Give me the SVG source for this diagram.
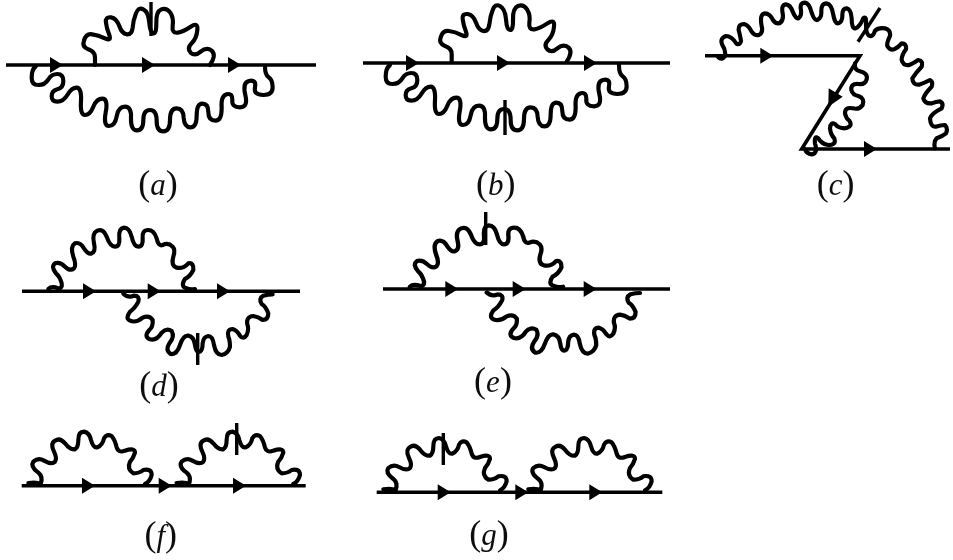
<svg xmlns="http://www.w3.org/2000/svg" xmlns:xlink="http://www.w3.org/1999/xlink" width="953" height="560" viewBox="0 0 953 560">
<style>
.w{fill:none;stroke:#000;stroke-width:12.5;stroke-linecap:round;stroke-linejoin:round}
.l{fill:none;stroke:#000;stroke-width:3.6}
.t{fill:none;stroke:#000;stroke-width:3.4}
.lab{font-family:"Liberation Serif",serif;font-size:36px;text-anchor:middle;fill:#111}
.lab tspan{font-style:italic;font-size:31px}
</style>
<defs>
<filter id="soft" x="-2%" y="-2%" width="104%" height="104%"><feGaussianBlur stdDeviation="0.4"/></filter>
<polygon id="ah" points="0,0 -13,-8 -13,8" fill="#000"/>
<path id="aTop" class="w" d="M285 195 L285 172 Q285 155 265 148 Q245 140 252 122 Q258 100 277 103 Q295 105 315 115 Q335 125 328 105 Q320 85 318 68 Q315 50 333 52 Q350 55 358 78 Q365 100 380 103 Q395 105 398 83 Q400 60 408 40 Q415 20 430 28 Q445 35 448 68 Q450 100 460 100 Q470 100 469 68 Q468 35 484 28 Q500 22 511 38 Q522 55 518 78 Q515 100 533 98 Q550 95 572 80 Q595 65 592 90 Q590 115 575 130 Q560 145 572 158 Q585 170 602 155 Q620 140 635 152 Q650 165 630 195"/>
<path id="aBot" class="w" d="M108 198 Q95 208 95 233 Q95 255 115 255 Q135 255 145 238 Q155 222 172 222 Q190 222 190 243 Q190 264 172 268 Q155 272 155 289 Q155 305 172 305 Q190 305 202 285 Q215 263 230 263 Q245 263 243 303 Q240 345 255 345 Q270 345 280 320 Q290 296 307 296 Q325 296 317 338 Q310 378 327 378 Q345 378 350 349 Q355 320 375 320 Q395 320 393 355 Q392 391 411 391 Q430 391 430 360 Q430 330 450 330 Q470 330 470 362 Q470 394 490 394 Q510 394 510 360 Q510 325 530 325 Q550 325 551 353 Q553 382 571 382 Q590 382 590 347 Q590 311 607 311 Q625 311 625 336 Q625 362 647 362 Q665 362 665 325 Q662 288 680 283 Q698 278 697 300 Q695 322 720 322 Q745 322 736 285 Q727 248 747 243 Q770 238 765 262 Q760 285 790 285 Q818 285 818 262 Q818 240 806 232 Q795 225 795 198"/>
<path id="dTop" class="w" d="M115 252 Q125 242 145 250 Q158 250 155 235 Q150 215 138 205 Q122 185 135 175 Q150 170 165 185 Q180 200 192 190 Q200 180 190 155 Q180 125 195 115 Q210 110 222 130 Q235 150 245 145 Q258 140 252 115 Q245 85 262 77 Q280 70 290 95 Q300 125 315 125 Q330 125 328 100 Q325 70 342 68 Q358 68 365 95 Q372 125 385 125 Q400 125 398 100 Q395 75 415 75 Q432 75 440 100 Q445 125 458 120 Q475 112 488 125 Q497 135 490 155 Q482 182 500 188 Q520 192 535 175 Q552 172 550 195 Q540 215 525 222 Q510 245 530 250 Q540 255 555 252"/>
<path id="dBot" class="w" d="M340 266 Q355 280 372 272 Q390 272 385 290 Q375 310 360 320 Q345 340 360 347 Q378 355 398 338 Q418 330 428 345 Q430 365 418 375 Q400 395 420 403 Q440 408 455 383 Q470 368 485 378 Q495 395 478 415 Q465 435 482 447 Q500 450 510 420 Q520 390 535 392 Q552 395 555 420 Q558 445 570 440 Q578 435 578 415 Q580 395 595 393 Q608 393 612 420 Q618 450 635 450 Q655 445 660 425 Q660 405 655 395 Q650 372 668 372 Q680 375 690 392 Q700 405 710 390 Q718 372 712 358 Q708 335 730 333 Q745 335 758 345 Q775 345 775 325 Q768 305 755 297 Q745 280 760 272 Q775 268 788 268"/>
<path id="fArc" class="w" d="M55 219 Q80 215 92 222 Q100 200 85 188 Q60 170 70 155 Q85 142 102 152 Q125 165 135 155 Q142 145 132 125 Q120 100 135 92 Q150 82 165 100 Q180 120 195 118 Q205 112 205 90 Q205 65 222 65 Q238 68 243 90 Q250 115 262 112 Q278 105 282 85 Q290 70 305 78 Q315 90 320 112 Q325 130 345 122 Q375 112 375 128 Q370 145 360 155 Q350 178 370 190 Q388 190 400 180 Q425 175 425 195 Q420 215 405 222"/>
</defs>
<rect width="953" height="560" fill="#fff"/>
<g filter="url(#soft)">
<g id="diagram-a">
<g id="connectors-a">
<path class="l" d="M6 65H316"/>
<use href="#aTop" transform="scale(.3333)"/>
<use href="#aBot" transform="scale(.3333)"/>
<path class="t" d="M151 2V36"/>
</g>
<use href="#ah" x="63" y="65"/><use href="#ah" x="155" y="65"/><use href="#ah" x="241" y="65"/>
<text class="lab" x="158" y="195">(<tspan>a</tspan>)</text>
</g>
<g id="diagram-b">
<g id="connectors-b">
<path class="l" d="M363 63H670"/>
<use href="#aTop" transform="translate(356.7,-3.3) scale(.3333)"/>
<use href="#aBot" transform="translate(354,-1) scale(.3333)"/>
<path class="t" d="M505 100V135"/>
</g>
<use href="#ah" x="419" y="63"/><use href="#ah" x="510" y="63"/><use href="#ah" x="597" y="63"/>
<text class="lab" x="495.7" y="195">(<tspan>b</tspan>)</text>
</g>
<g id="diagram-c">
<g id="connectors-c">
<path class="l" d="M705 55.7H860L801.7 149H950"/>
<g transform="translate(690,0) scale(.3333)">
<path class="w" d="M85 172 Q95 182 105 168 Q108 150 97 135 Q88 115 108 108 Q125 108 140 132 Q152 135 153 122 Q150 105 146 90 Q145 72 162 72 Q175 75 185 95 Q195 108 207 105 Q220 98 215 78 Q208 42 225 40 Q240 40 250 62 Q258 72 268 70 Q282 62 278 40 Q273 15 287 13 Q302 15 308 35 Q318 58 325 55 Q335 50 333 30 Q328 8 345 8 Q358 10 365 38 Q373 62 382 60 Q395 55 394 35 Q393 10 410 10 Q425 12 430 45 Q435 72 445 70 Q458 65 457 45 Q457 25 470 25 Q483 28 485 55 Q485 88 497 85 Q510 80 520 55 Q530 45 528 75 Q528 105 540 108 Q550 110 555 92 Q565 82 585 85 Q603 90 600 108 Q590 128 592 138 Q600 152 612 148 Q625 142 635 130 Q650 130 648 148 Q635 165 635 180 Q640 198 658 195 Q675 188 685 180 Q700 182 695 200 Q680 215 667 235 Q668 255 687 254 Q705 248 720 240 Q730 245 725 260 Q705 280 700 295 Q705 312 725 310 Q738 305 750 304 Q762 310 755 325 Q725 340 720 355 Q722 382 737 380 Q752 375 765 375 Q775 385 768 400 Q755 410 740 415 Q730 425 735 445"/>
<path class="w" d="M495 190 Q492 210 510 214 Q535 220 530 238 Q525 255 505 252 Q482 250 484 270 Q488 285 505 288 Q525 295 518 315 Q508 330 488 325 Q465 320 465 340 Q468 355 478 362 Q490 380 465 385 Q445 385 435 372 Q422 365 420 385 Q422 405 433 415 Q440 435 415 435 Q395 432 385 415 Q372 405 375 430 Q385 460 365 463 Q350 462 345 448"/>
</g>
<path class="t" d="M858 41.7L880 8"/>
</g>
<use href="#ah" x="773.3" y="55.7"/>
<polygon points="828.3,106.7 828.7,88.3 842.7,96.7" fill="#000"/>
<use href="#ah" x="877" y="149"/>
<text class="lab" x="835.7" y="195">(<tspan>c</tspan>)</text>
</g>
<g id="diagram-d">
<g id="connectors-d">
<path class="l" d="M22 291.3H300"/>
<use href="#dTop" transform="translate(10,205) scale(.3333)"/>
<use href="#dBot" transform="translate(10,205) scale(.3333)"/>
<path class="t" d="M197.7 333V365"/>
</g>
<use href="#ah" x="96" y="291.3"/><use href="#ah" x="160.7" y="291.3"/><use href="#ah" x="230" y="291.3"/>
<text class="lab" x="159" y="396">(<tspan>d</tspan>)</text>
</g>
<g id="diagram-e">
<g id="connectors-e">
<path class="l" d="M383 289H670"/>
<use href="#dTop" transform="translate(369.9,202.7) scale(.348,.3333)"/>
<use href="#dBot" transform="translate(370.3,203.7) scale(.3423,.3333)"/>
<path class="t" d="M485.7 212V245"/>
</g>
<use href="#ah" x="458.3" y="289"/><use href="#ah" x="525.7" y="289"/><use href="#ah" x="596.7" y="289"/>
<text class="lab" x="493" y="392">(<tspan>e</tspan>)</text>
</g>
<g id="diagram-f">
<g id="connectors-f">
<path class="l" d="M21.7 485.7H305.7"/>
<use href="#fArc" transform="translate(10,410) scale(.3333)"/>
<use href="#fArc" transform="translate(158.3,410) scale(.3333)"/>
<path class="t" d="M236.7 423V455"/>
</g>
<use href="#ah" x="95" y="485.7"/><use href="#ah" x="171.7" y="485.7"/><use href="#ah" x="246" y="485.7"/>
<text class="lab" x="160.7" y="546">(<tspan>f</tspan>)</text>
</g>
<g id="diagram-g">
<g id="connectors-g">
<path class="l" d="M376.7 492.3H662.3"/>
<use href="#fArc" transform="translate(365,416.3) scale(.3333)"/>
<use href="#fArc" transform="translate(510,416.3) scale(.3333)"/>
<path class="t" d="M443.3 433V465"/>
</g>
<use href="#ah" x="450.7" y="492.3"/><use href="#ah" x="528.3" y="492.3"/><use href="#ah" x="602.3" y="492.3"/>
<text class="lab" x="489" y="545">(<tspan>g</tspan>)</text>
</g>
</g>
</svg>
